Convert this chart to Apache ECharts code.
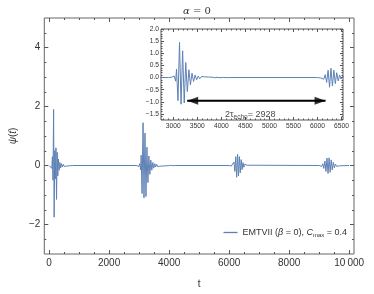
<!DOCTYPE html>
<html><head><meta charset="utf-8">
<script src="https://cdn.jsdelivr.net/npm/echarts@6/dist/echarts.min.js"></script>
<style>html,body{margin:0;padding:0;background:#fff}#c{width:374px;height:294px}</style>
</head><body><div id="c"></div>
<script>
// ---- data: [t, psi] extremes of each wave packet ----
const echo0 = [[0,0],[60,0.02],[90,-0.1],[110,0.3],[130,-0.5],[150,1.9],[168,-1.75],[188,0.5],[208,-0.45],[228,0.6],[248,-1.15],[268,0.45],[290,-0.35],[312,0.22],[335,-0.16],[360,0.1],[385,-0.08],[410,0.06],[440,-0.05],[470,0.04],[500,-0.03],[540,0.025],[580,-0.02],[620,0.015],[670,-0.01],[720,0.008],[780,0]];
const echo1 = [[2900,0],[2960,0.01],[2990,-0.03],[3020,0.06],[3050,-0.15],[3068,0.35],[3098,-0.95],[3130,1.45],[3162,-1.1],[3195,1.1],[3228,-1.05],[3260,0.62],[3292,-0.58],[3325,0.32],[3357,-0.3],[3390,0.18],[3422,-0.16],[3455,0.1],[3487,-0.09],[3520,0.06],[3552,-0.05],[3585,0.04],[3617,-0.035],[3650,0.03],[3690,-0.025],[3730,0.02],[3770,-0.018],[3810,0.015],[3860,-0.012],[3910,0.01],[3970,-0.008],[4040,0.006],[4120,-0.004],[4200,0]];
const echo2 = [[6000,0],[6040,0.01],[6070,-0.02],[6100,0.04],[6130,-0.07],[6160,0.12],[6190,-0.2],[6220,0.3],[6250,-0.4],[6280,0.38],[6310,-0.35],[6340,0.3],[6370,-0.25],[6400,0.2],[6430,-0.14],[6460,0.1],[6490,-0.06],[6520,0.04],[6560,-0.02],[6600,0.01],[6650,0]];
const echo3 = [[9000,0],[9050,0.01],[9085,-0.03],[9120,0.06],[9155,-0.1],[9190,0.15],[9225,-0.2],[9260,0.25],[9295,-0.27],[9330,0.26],[9365,-0.23],[9400,0.19],[9435,-0.15],[9470,0.11],[9505,-0.08],[9540,0.05],[9580,-0.03],[9620,0.02],[9670,-0.01],[9720,0],[10000,0]];

const mainXTicks = [0,2000,4000,6000,8000,10000];
const mainYTicks = [-2,0,2,4];
const insetXTicks = [3000,3500,4000,4500,5000,5500,6000,6500];
const insetYTicks = [-1.5,-1,-0.5,0,0.5,1,1.5,2];
const arrowT = [3290, 6167];
const arrowPsi = -0.96;
const echoLabel = [4600, -1.53];
const echoText = '2928';

const signal = echo0.concat(echo1, echo2, echo3);

// minor tick positions
const mainXMinor = []; for (let v=500; v<10000; v+=500) if (v%2000) mainXMinor.push(v);
const mainYMinor = []; for (let i=-5; i<=9; i++) if (i%4) mainYMinor.push(i/2);
const insetXMinor = []; for (let v=2800; v<=6500; v+=100) if (v%500) insetXMinor.push(v);
const insetYMinor = []; for (let i=-17; i<=19; i++) if (i%5) insetYMinor.push(i/10);

const FONT = 'Liberation Sans';
const TXT = '#333';
const minus = s => String(s).replace('-', '\u2212');

function ax(grid, pos, rng, ticks, len, label, z, extra) {
  return Object.assign({
    type: 'value', gridIndex: grid, position: pos, min: rng[0], max: rng[1], z: z,
    axisLine: {show: false, onZero: false},
    axisTick: {show: true, inside: true, length: len, customValues: ticks, lineStyle: {color: '#555', width: 1}},
    axisLabel: label ? Object.assign({show: true, customValues: ticks, color: TXT, fontFamily: FONT}, label) : {show: false},
    splitLine: {show: false}
  }, extra || {});
}

const MX = [-160, 10160], MY = [-3, 5], IX = [2745, 6530], IY = [-1.75, 2.0];
const mainLbl = {fontSize: 10, margin: 4};
const insLbl = {fontSize: 6.7, margin: 2};
const HEAD = [8, 11];

const chart = echarts.init(document.getElementById('c'), null, {renderer: 'canvas'});
chart.setOption({
  animation: false,
  backgroundColor: '#fff',
  title: {
    text: '{a|α}{b| = 0}', left: 192, top: 1, textAlign: 'center',
    textStyle: {fontWeight: 'normal', rich: {a: {fontFamily: 'DejaVu Serif', fontStyle: 'italic', fontWeight: 'normal', fontSize: 10, color: TXT}, b: {fontFamily: 'DejaVu Serif', fontWeight: 'normal', fontSize: 10, color: TXT}}}
  },
  legend: {
    data: ['EMTVII'], right: 22, top: 223, icon: 'rect', itemWidth: 14, itemHeight: 1.3, itemGap: 4,
    formatter: () => '{n|EMTVII (}{i|β}{n| = 0), }{i|C}{s|max}{n| = 0.4}',
    textStyle: {rich: {
      n: {fontFamily: FONT, fontSize: 9, color: TXT},
      i: {fontFamily: FONT, fontStyle: 'italic', fontSize: 9, color: TXT},
      s: {fontFamily: FONT, fontSize: 6, color: TXT, padding: [5, 0, 0, 0]}
    }}
  },
  grid: [
    {left: 30, top: 18, width: 324, height: 244, show: true, borderColor: '#666', borderWidth: 1, backgroundColor: 'transparent', z: 0},
    {left: 161, top: 29, width: 182, height: 91, show: true, borderColor: '#555', borderWidth: 1, backgroundColor: '#fff', z: 10}
  ],
  xAxis: [
    ax(0, 'bottom', MX, mainXTicks, 4, Object.assign({formatter: v => v === 10000 ? '10\u2009000' : String(v)}, mainLbl), 1,
       {name: 't', nameLocation: 'middle', nameGap: 25, nameTextStyle: {fontFamily: FONT, fontSize: 10, color: TXT}}),
    ax(0, 'bottom', MX, mainXMinor, 2, null, 1),
    ax(0, 'top', MX, mainXTicks, 4, null, 1),
    ax(0, 'top', MX, mainXMinor, 2, null, 1),
    ax(1, 'bottom', IX, insetXTicks, 3, Object.assign({formatter: v => String(v)}, insLbl, {margin: 3}), 11),
    ax(1, 'bottom', IX, insetXMinor, 1.5, null, 11),
    ax(1, 'top', IX, insetXTicks, 3, null, 11),
    ax(1, 'top', IX, insetXMinor, 1.5, null, 11)
  ],
  yAxis: [
    ax(0, 'left', MY, mainYTicks, 4, Object.assign({formatter: v => minus(v)}, mainLbl), 1,
       {name: '{i|ψ}{n|(}{i|t}{n|)}', nameLocation: 'middle', nameGap: 26, nameRotate: 90,
        nameTextStyle: {rich: {i: {fontFamily: FONT, fontStyle: 'italic', fontSize: 10, color: TXT}, n: {fontFamily: FONT, fontSize: 10, color: TXT}}}}),
    ax(0, 'left', MY, mainYMinor, 2, null, 1),
    ax(0, 'right', MY, mainYTicks, 4, null, 1),
    ax(0, 'right', MY, mainYMinor, 2, null, 1),
    ax(1, 'left', IY, insetYTicks, 3, Object.assign({formatter: v => minus(v.toFixed(1))}, insLbl), 11),
    ax(1, 'left', IY, insetYMinor, 1.5, null, 11),
    ax(1, 'right', IY, insetYTicks, 3, null, 11),
    ax(1, 'right', IY, insetYMinor, 1.5, null, 11)
  ],
  series: [
    {name: 'EMTVII', type: 'line', xAxisIndex: 0, yAxisIndex: 0, data: signal, symbol: 'none', z: 1,
     lineStyle: {color: '#5E81B5', width: 1}, itemStyle: {color: '#5E81B5'}, clip: true},
    {name: 'inset', type: 'line', xAxisIndex: 4, yAxisIndex: 4, data: signal, symbol: 'none', z: 12,
     lineStyle: {color: '#5E81B5', width: 1}, itemStyle: {color: '#5E81B5'}, clip: true},
    {name: 'arrow', type: 'line', xAxisIndex: 4, yAxisIndex: 4, z: 13, silent: true, symbol: 'none',
     data: [[arrowT[0], arrowPsi], [arrowT[1], arrowPsi]],
     lineStyle: {color: '#000', width: 2}},
    {name: 'heads', type: 'scatter', xAxisIndex: 4, yAxisIndex: 4, z: 14, silent: true,
     symbol: 'triangle', symbolSize: HEAD,
     data: [{value: [arrowT[0], arrowPsi], symbolRotate: 90, symbolOffset: [HEAD[1] / 2, 0]},
            {value: [arrowT[1], arrowPsi], symbolRotate: -90, symbolOffset: [-HEAD[1] / 2, 0]}],
     itemStyle: {color: '#000'}},
    {name: 'label', type: 'scatter', xAxisIndex: 4, yAxisIndex: 4, data: [echoLabel], symbolSize: 0, z: 15, silent: true,
     label: {show: true, position: 'inside', formatter: () => '{n|2τ}{s|echo}{n|= ' + echoText + '}',
       rich: {n: {fontFamily: FONT, fontSize: 9, color: '#111'}, s: {fontFamily: FONT, fontSize: 6.5, color: '#111', padding: [5, 0, 0, 0]}}}}
  ]
});
</script></body></html>
